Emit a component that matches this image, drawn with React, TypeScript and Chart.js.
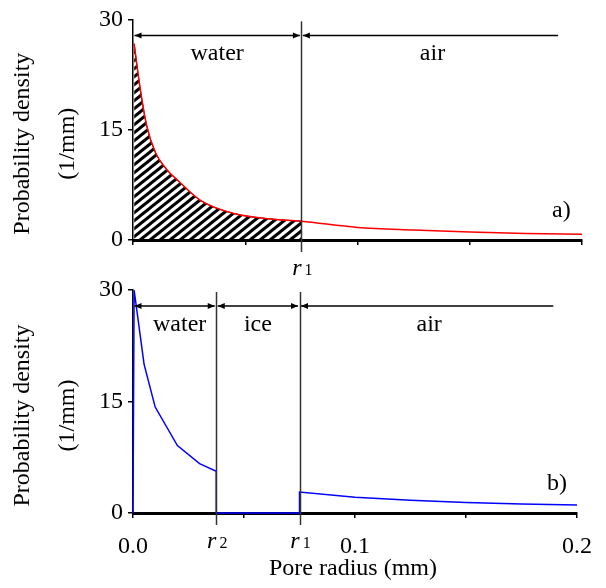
import React, { useEffect, useRef } from 'react';
import { Chart, registerables } from 'chart.js';
Chart.register(...registerables);

// ---------- data ----------
const R1 = 0.075;
const R2 = 0.0375;
const xTickValues = [0, 0.05, 0.1, 0.15, 0.2];
const xTickLabels = ['0.0', '', '0.1', '', '0.2'];
const yTickValues = [0, 15, 30];

// panel a) : red curve (hatched part = water, r < r1)
const topX = [0.0005, 0.003, 0.006, 0.01, 0.015, 0.02, 0.03, 0.045, 0.06, 0.075, 0.1, 0.125, 0.15, 0.175, 0.2];
const topY = [26.7, 21.0, 15.7, 11.9, 9.6, 8.1, 5.4, 3.6, 2.9, 2.55, 1.71, 1.35, 1.08, 0.9, 0.77];

// panel b) : blue curve
const botX = [0, 0.0005, 0.005, 0.01, 0.02, 0.03, 0.0375, 0.0375, 0.075, 0.075, 0.1, 0.125, 0.15, 0.175, 0.2];
const botY = [0, 30, 20.0, 14.25, 9.07, 6.64, 5.62, 0, 0, 2.83, 2.12, 1.7, 1.41, 1.21, 1.06];

const yTitle = ['Probability density', '(1/mm)'];
const xTitle = 'Pore radius (mm)';
const topZones = [
  { label: 'water', from: 0, to: R1, l: true, r: true, dx: 0 },
  { label: 'air', from: R1, to: 0.19, l: true, r: false, dx: 2 },
];
const botZones = [
  { label: 'water', from: 0, to: R2, l: true, r: true, dx: 5 },
  { label: 'ice', from: R2, to: R1, l: true, r: true, dx: 0 },
  { label: 'air', from: R1, to: 0.19, l: true, r: false, dx: 2 },
];

const FONT = '"Liberation Serif", "Times New Roman", serif';
const W = 606;
const H = 588;

function makeHatch(): CanvasPattern | string {
  const w = 10, h = 8;
  const c = document.createElement('canvas');
  c.width = w; c.height = h;
  const g = c.getContext('2d');
  if (!g) return 'black';
  g.strokeStyle = '#000';
  g.lineWidth = 3;
  for (const k of [0, 1, 2]) {
    g.beginPath();
    g.moveTo(w * (k + 1), -h);
    g.lineTo(w * (k - 2), 2 * h);
    g.stroke();
  }
  return g.createPattern(c, 'repeat') || 'black';
}

type Panel = {
  top: boolean;
  areaTop: number;
  areaBottom: number;
  zones: typeof topZones;
  lines: number[];
  rLabels: { v: number; sub: string }[];
  letter: string;
};

function arrow(ctx: CanvasRenderingContext2D, x1: number, x2: number, y: number, l: boolean, r: boolean) {
  ctx.beginPath();
  ctx.moveTo(x1, y);
  ctx.lineTo(x2, y);
  ctx.stroke();
  const hl = 7, hw = 3;
  if (l) {
    ctx.beginPath();
    ctx.moveTo(x1, y);
    ctx.lineTo(x1 + hl, y - hw);
    ctx.lineTo(x1 + hl, y + hw);
    ctx.closePath();
    ctx.fill();
  }
  if (r) {
    ctx.beginPath();
    ctx.moveTo(x2, y);
    ctx.lineTo(x2 - hl, y - hw);
    ctx.lineTo(x2 - hl, y + hw);
    ctx.closePath();
    ctx.fill();
  }
}

function buildChart(canvas: HTMLCanvasElement, p: Panel): Chart {
  const xAxisH = p.top ? 40 : H - p.areaBottom;
  const padBottom = H - p.areaBottom - xAxisH;

  const annot = {
    id: 'annot' + (p.top ? 'A' : 'B'),
    afterDatasetsDraw(chart: any) {
      const { ctx, chartArea: a } = chart;
      const x = chart.scales.x;
      ctx.save();
      // vertical boundary lines
      ctx.strokeStyle = '#333';
      ctx.lineWidth = 1.5;
      for (const v of p.lines) {
        const px = Math.round(x.getPixelForValue(v)) + 0.5;
        ctx.beginPath();
        ctx.moveTo(px, a.top + 2);
        ctx.lineTo(px, a.bottom + 12);
        ctx.stroke();
      }
      // r labels
      ctx.fillStyle = '#000';
      ctx.textBaseline = 'alphabetic';
      for (const rl of p.rLabels) {
        const px = x.getPixelForValue(rl.v);
        ctx.font = `italic 24px ${FONT}`;
        const w1 = ctx.measureText('r').width;
        ctx.font = `16px ${FONT}`;
        const w2 = ctx.measureText(rl.sub).width;
        const tot = w1 + 3 + w2;
        const sx = px - tot / 2 + 1;
        ctx.textAlign = 'left';
        ctx.font = `italic 24px ${FONT}`;
        ctx.fillText('r', sx, a.bottom + 35);
        ctx.font = `16px ${FONT}`;
        ctx.fillText(rl.sub, sx + w1 + 3, a.bottom + 35);
      }
      // zone arrows and labels
      ctx.strokeStyle = '#000';
      ctx.lineWidth = 1.5;
      const ay = a.top + 16;
      for (const z of p.zones) {
        const x1 = x.getPixelForValue(z.from) + 1.5;
        const x2 = x.getPixelForValue(z.to) - 1.5;
        arrow(ctx, x1, x2, ay, z.l, z.r);
        ctx.font = `24px ${FONT}`;
        ctx.textAlign = 'center';
        ctx.fillText(z.label, (x1 + x2) / 2 + z.dx, a.top + 41);
      }
      // panel letter
      ctx.font = `24px ${FONT}`;
      ctx.textAlign = 'left';
      ctx.fillText(p.letter, a.right - 30, a.bottom - 23);
      // y title
      const cy = (a.top + a.bottom) / 2 + 14;
      const xs = [23, 68];
      yTitle.forEach((t, i) => {
        ctx.save();
        ctx.translate(xs[i], cy);
        ctx.rotate(-Math.PI / 2);
        ctx.textAlign = 'center';
        ctx.textBaseline = 'middle';
        ctx.fillText(t, 0, 0);
        ctx.restore();
      });
      // x title
      if (!p.top) {
        ctx.textAlign = 'center';
        ctx.textBaseline = 'alphabetic';
        ctx.fillText(xTitle, (a.left + a.right) / 2 - 2, a.bottom + 62);
      }
      ctx.restore();
    },
  };

  const datasets: any[] = [];
  if (p.top) {
    const hatchPts = topX.map((v, i) => ({ x: v, y: topY[i] })).filter((pt) => pt.x <= R1 + 1e-9);
    datasets.push({
      data: hatchPts,
      borderColor: '#000',
      borderWidth: 1,
      backgroundColor: makeHatch(),
      fill: 'origin',
      pointRadius: 0,
      cubicInterpolationMode: 'monotone',
      order: 2,
    });
    datasets.push({
      data: topX.map((v, i) => ({ x: v, y: topY[i] })),
      borderColor: '#ff0000',
      borderWidth: 1.5,
      fill: false,
      pointRadius: 0,
      cubicInterpolationMode: 'monotone',
      order: 1,
    });
  } else {
    datasets.push({
      data: botX.map((v, i) => ({ x: v, y: botY[i] })),
      borderColor: '#0000ff',
      borderWidth: 1.5,
      fill: false,
      pointRadius: 0,
      tension: 0,
      clip: 4,
    });
  }

  return new Chart(canvas, {
    type: 'line',
    data: { datasets },
    plugins: [annot],
    options: {
      animation: false,
      responsive: false,
      maintainAspectRatio: false,
      devicePixelRatio: 1,
      layout: { padding: { left: 0, right: W - 582, top: p.areaTop, bottom: padBottom } },
      plugins: { legend: { display: false }, tooltip: { enabled: false }, title: { display: false } },
      scales: {
        x: {
          type: 'linear',
          min: 0,
          max: 0.2,
          afterFit: (s: any) => { s.height = xAxisH; },
          afterBuildTicks: (s: any) => { s.ticks = xTickValues.map((v) => ({ value: v })); },
          ticks: {
            color: '#000',
            font: { family: FONT, size: 24 },
            padding: 14,
            maxRotation: 0,
            autoSkip: false,
            callback: (_v: any, i: number) => (p.top ? '' : xTickLabels[i]),
          },
          grid: { drawOnChartArea: false, drawTicks: true, tickLength: 5, color: '#000', lineWidth: 1.5 },
          border: { color: '#000', width: 3 },
        },
        y: {
          type: 'linear',
          min: 0,
          max: 30,
          afterFit: (s: any) => { s.width = 133; },
          afterBuildTicks: (s: any) => { s.ticks = yTickValues.map((v) => ({ value: v })); },
          ticks: {
            color: '#000',
            font: { family: FONT, size: 24 },
            padding: 5,
            callback: (v: any) => String(v),
          },
          grid: { drawOnChartArea: false, drawTicks: true, tickLength: 5, color: '#000', lineWidth: 1.5 },
          border: { color: '#000', width: 1.5 },
        },
      },
    } as any,
  });
}

export default function App() {
  const aRef = useRef<HTMLCanvasElement>(null);
  const bRef = useRef<HTMLCanvasElement>(null);
  useEffect(() => {
    Chart.defaults.font.family = FONT;
    Chart.defaults.color = '#000';
    const ca = buildChart(aRef.current as HTMLCanvasElement, {
      top: true,
      areaTop: 17,
      areaBottom: 240,
      zones: topZones,
      lines: [R1],
      rLabels: [{ v: R1, sub: '1' }],
      letter: 'a)',
    });
    const cb = buildChart(bRef.current as HTMLCanvasElement, {
      top: false,
      areaTop: 290,
      areaBottom: 513,
      zones: botZones,
      lines: [R2, R1],
      rLabels: [{ v: R2, sub: '2' }, { v: R1, sub: '1' }],
      letter: 'b)',
    });
    return () => {
      ca.destroy();
      cb.destroy();
    };
  }, []);
  const cs: React.CSSProperties = { position: 'absolute', left: 0, top: 0, width: W, height: H };
  return (
    <div style={{ position: 'fixed', left: 0, top: 0, width: W, height: H, background: '#fff' }}>
      <canvas ref={aRef} width={W} height={H} style={cs} />
      <canvas ref={bRef} width={W} height={H} style={cs} />
    </div>
  );
}
